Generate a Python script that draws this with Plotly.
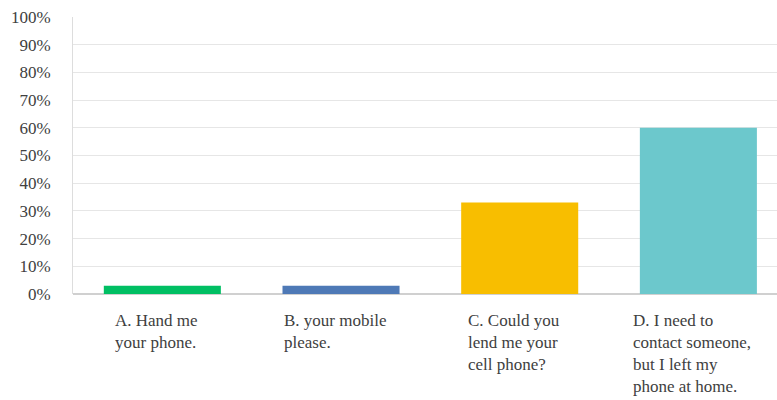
import plotly.graph_objects as go

categories = ["A", "B", "C", "D"]
labels = [
    "A. Hand me<br>your phone.",
    "B. your mobile<br>please.",
    "C. Could you<br>lend me your<br>cell phone?",
    "D. I need to<br>contact someone,<br>but I left my<br>phone at home.",
]
values = [0.03, 0.03, 0.33, 0.60]
colors = ["#00BF63", "#4E79B6", "#F8BE00", "#6CC8CC"]
y_ticks = [i / 10 for i in range(11)]
y_tick_text = [f"{i * 10}%" for i in range(11)]

fig = go.Figure(
    go.Bar(
        x=categories,
        y=values,
        marker=dict(color=colors, line=dict(width=0)),
        width=0.655,
    )
)

font_family = "Times New Roman, Liberation Serif, serif"

for cat, lab in zip(categories, labels):
    fig.add_annotation(
        x=cat, y=0, xref="x", yref="paper",
        text=lab, showarrow=False,
        xanchor="center", yanchor="top", align="left",
        yshift=-15, xshift=-6,
        font=dict(family=font_family, size=17, color="#404040"),
    )

fig.update_layout(
    width=777, height=400,
    margin=dict(l=73, r=0, t=17, b=106),
    paper_bgcolor="white", plot_bgcolor="white",
    showlegend=False,
    font=dict(family=font_family, size=17, color="#595959"),
    xaxis=dict(
        range=[-0.5, 3.44],
        showticklabels=False,
        showgrid=False,
        showline=False,
        zeroline=False,
    ),
    yaxis=dict(
        range=[0, 1],
        tickvals=y_ticks,
        ticktext=y_tick_text,
        showgrid=True,
        gridcolor="#E6E6E6",
        gridwidth=1,
        zeroline=True,
        zerolinecolor="#D0D0D0",
        zerolinewidth=2,
        showline=True,
        linecolor="#DDDDDD",
        linewidth=1,
        ticks="outside",
        ticklen=18,
        tickcolor="rgba(0,0,0,0)",
        tickfont=dict(family=font_family, size=17, color="#404040"),
    ),
)

fig.write_html("out.html")
